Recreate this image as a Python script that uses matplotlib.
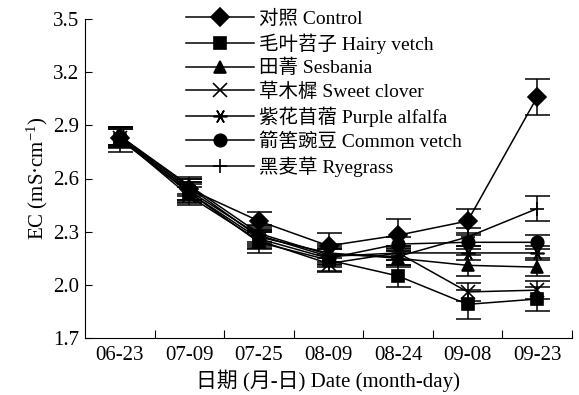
import numpy as np
import matplotlib
matplotlib.use("Agg")
import matplotlib.pyplot as plt

plt.rcParams['font.family'] = ['Liberation Serif', 'Noto Sans CJK SC']
plt.rcParams['mathtext.fontset'] = 'stix'
plt.rcParams['mathtext.default'] = 'regular'

dates = ['06-23', '07-09', '07-25', '08-09', '08-24', '09-08', '09-23']

labels = ['对照 Control', '毛叶苕子 Hairy vetch', '田菁 Sesbania', '草木樨 Sweet clover',
          '紫花苜蓿 Purple alfalfa', '箭筈豌豆 Common vetch', '黑麦草 Ryegrass']
markers = ['D', 's', '^', 'x', (6, 2, 90), 'o', '+']

control = [2.83, 2.54, 2.36, 2.22, 2.28, 2.36, 3.06]
hairy_vetch = [2.82, 2.52, 2.24, 2.14, 2.05, 1.89, 1.92]
sesbania = [2.84, 2.55, 2.27, 2.18, 2.15, 2.11, 2.10]
sweet_clover = [2.83, 2.50, 2.25, 2.12, 2.18, 1.96, 1.97]
purple_alfalfa = [2.84, 2.53, 2.28, 2.16, 2.18, 2.18, 2.18]
common_vetch = [2.83, 2.52, 2.26, 2.15, 2.23, 2.24, 2.24]
ryegrass = [2.84, 2.56, 2.29, 2.17, 2.16, 2.27, 2.43]

err_control = [0.06, 0.06, 0.05, 0.07, 0.09, 0.07, 0.10]
err_hairy = [0.07, 0.06, 0.06, 0.06, 0.06, 0.08, 0.07]
err_sesbania = [0.05, 0.05, 0.05, 0.05, 0.05, 0.06, 0.05]
err_sweet = [0.05, 0.05, 0.05, 0.05, 0.04, 0.05, 0.05]
err_alfalfa = [0.05, 0.05, 0.05, 0.05, 0.04, 0.04, 0.04]
err_vetch = [0.05, 0.05, 0.05, 0.05, 0.04, 0.04, 0.04]
err_rye = [0.05, 0.05, 0.05, 0.05, 0.05, 0.05, 0.07]

series = [control, hairy_vetch, sesbania, sweet_clover, purple_alfalfa, common_vetch, ryegrass]
errors = [err_control, err_hairy, err_sesbania, err_sweet, err_alfalfa, err_vetch, err_rye]

fig = plt.figure(figsize=(5.79, 3.95), dpi=100)
ax = fig.add_axes([85/579, 1-338/395, (572-85)/579, (338-19)/395])

x = np.arange(len(dates))
handles = []
for vals, errs, m, lab in zip(series, errors, markers, labels):
    ax.errorbar(x, vals, yerr=errs, fmt='none', ecolor='black', elinewidth=1.1,
                capsize=9, capthick=1.1)
    ms = 9
    if m in ('x', '+') or isinstance(m, tuple):
        ms = 10
    h, = ax.plot(x, vals, color='black', marker=m, markersize=ms, lw=1.1,
                 markeredgewidth=1.2, label=lab)
    handles.append(h)

ax.set_xlim(-0.5, 6.5)
ax.set_ylim(1.7, 3.5)
ax.set_xticks(np.arange(0.5, 7, 1))
ax.set_xticklabels([])
ax.set_xticks(x, minor=True)
ax.set_xticklabels(dates, minor=True, fontsize=15)
ax.tick_params(axis='x', which='minor', length=0, pad=6)
ax.tick_params(axis='x', which='major', direction='in', length=6)
ax.set_yticks(np.arange(1.7, 3.51, 0.3))
ax.set_yticklabels(['%.1f' % v for v in np.arange(1.7, 3.51, 0.3)], fontsize=15)
ax.tick_params(axis='y', direction='in', length=5, pad=4)
ax.spines['top'].set_visible(False)
ax.spines['right'].set_visible(False)

ax.set_xlabel('日期 (月-日) Date (month-day)', fontsize=15, labelpad=3)
ax.set_ylabel('EC (mS·cm$^{-1}$)', fontsize=15, labelpad=2)

fig.legend(handles=handles, loc='upper left', bbox_to_anchor=(172/579, 1 + 4/395),
           frameon=False, fontsize=14, handlelength=3.5, labelspacing=0.28,
           handletextpad=0.25, borderpad=0.2)

fig.savefig('out.png', dpi=100)
